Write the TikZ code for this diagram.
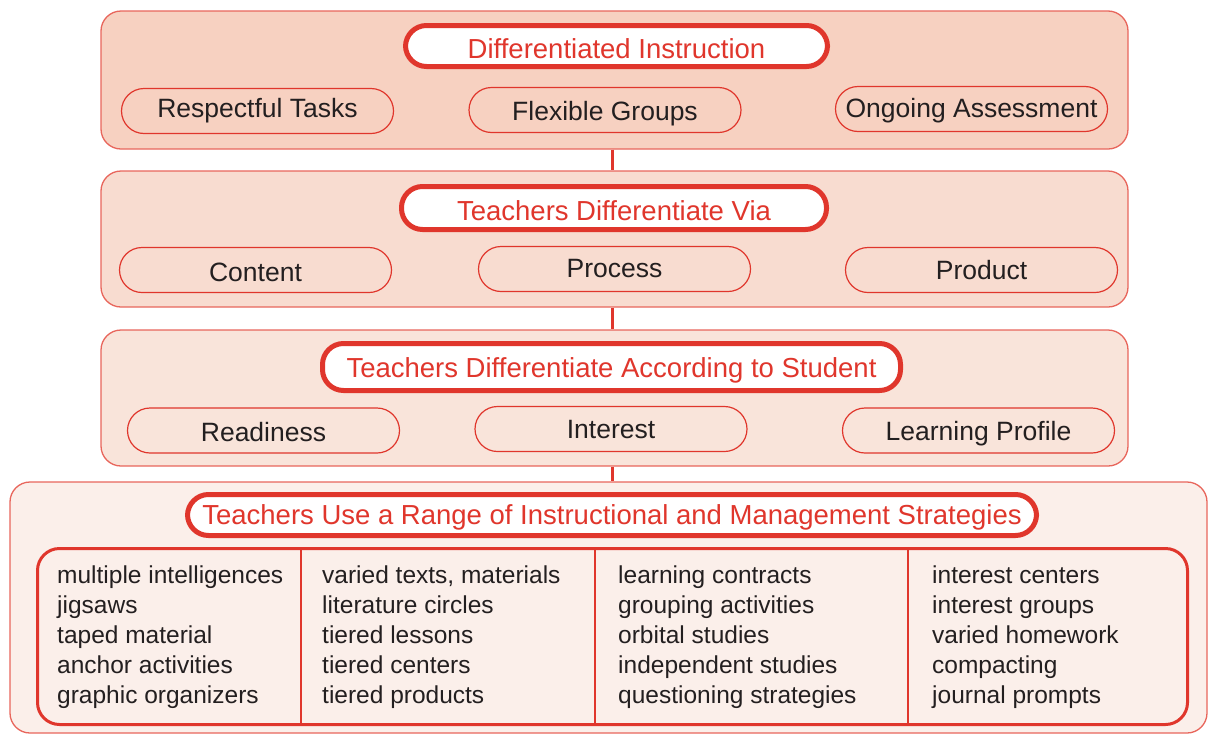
\documentclass[tikz,border=0pt]{standalone}
\usepackage{fontspec}
\setmainfont{Liberation Sans}
\definecolor{dired}{HTML}{E0362C}
\definecolor{edgered}{HTML}{E8665C}
\definecolor{fillA}{HTML}{F7D1C1}
\definecolor{fillB}{HTML}{F8DCD0}
\definecolor{fillC}{HTML}{F9E4DA}
\definecolor{fillD}{HTML}{FBEFEA}
\definecolor{ink}{HTML}{231F20}
\newcommand{\lowertext}[2]{\raisebox{-#1pt}[\height][\depth]{#2}}
\begin{document}
\begin{tikzpicture}[x=1pt,y=-1pt,
  panel/.style={draw=edgered, line width=1.3pt, rounded corners=20pt, inner sep=0pt},
  titlebox/.style={draw=dired, fill=white, line width=5pt, rounded corners=21pt, inner sep=0pt,
    text=dired, font=\fontsize{27.5}{33}\selectfont},
  pill/.style={draw=dired, line width=1.2pt, rounded corners=22.5pt, inner sep=0pt,
    minimum width=272pt, minimum height=45pt, text=ink, font=\fontsize{26.5}{32}\selectfont},
  listtext/.style={anchor=north west, inner sep=0pt, align=left, text=ink,
    font=\fontsize{24.5}{30}\selectfont},
  link/.style={draw=dired, line width=3pt},
  divider/.style={draw=dired, line width=1.3pt}]
\useasboundingbox (0,0) rectangle (1209,734);

% panels
\node[panel, fill=fillA, minimum width=1027pt, minimum height=138pt] (p1) at (614.5,80) {};
\node[panel, fill=fillB, minimum width=1027pt, minimum height=136pt] (p2) at (614.5,239) {};
\node[panel, fill=fillC, minimum width=1027pt, minimum height=136pt] (p3) at (614.5,398) {};
\node[panel, fill=fillD, minimum width=1197pt, minimum height=251pt] (p4) at (608.5,607.5) {};

% connectors
\coordinate (cx) at (612,0);
\draw[link] (p1.south -| cx) -- (p2.north -| cx);
\draw[link] (p2.south -| cx) -- (p3.north -| cx);
\draw[link] (p3.south -| cx) -- (p4.north -| cx);

% panel 1
\node[titlebox, minimum width=422pt, minimum height=41pt] (t1) at (616.5,46) {\lowertext{2.5}{Differentiated Instruction}};
\node[pill, fill=fillA] (a1) at (257.5,111) {\lowertext{0}{Respectful Tasks}};
\node[pill, fill=fillA] (a2) at (605,110) {\lowertext{4}{Flexible Groups}};
\node[pill, fill=fillA] (a3) at (971.5,109) {\lowertext{2}{Ongoing Assessment}};

% panel 2
\node[titlebox, minimum width=425pt, minimum height=43pt] (t2) at (614,208) {\lowertext{3}{Teachers Differentiate Via}};
\node[pill, fill=fillB] (b1) at (255.5,270) {\lowertext{2}{Content}};
\node[pill, fill=fillB] (b2) at (614.5,269) {\lowertext{0}{Process}};
\node[pill, fill=fillB] (b3) at (981.5,270) {\lowertext{0}{Product}};

% panel 3
\node[titlebox, minimum width=578pt, minimum height=47pt] (t3) at (611.5,367) {\lowertext{3}{Teachers Differentiate According to Student}};
\node[pill, fill=fillC] (c1) at (263.5,430.5) {\lowertext{2}{Readiness}};
\node[pill, fill=fillC] (c2) at (611,429) {\lowertext{1}{Interest}};
\node[pill, fill=fillC] (c3) at (978.5,430.5) {\lowertext{3}{Learning Profile}};

% panel 4
\node[titlebox, minimum width=849pt, minimum height=41pt] (t4) at (612,515) {\lowertext{2}{Teachers Use a Range of Instructional and Management Strategies}};
\node[draw=dired, line width=3pt, rounded corners=22pt, minimum width=1150pt, minimum height=176pt, inner sep=0pt] (box) at (612.5,636.5) {};
\coordinate (d1) at (301,0);
\coordinate (d2) at (595,0);
\coordinate (d3) at (908,0);
\draw[divider] (box.north -| d1) -- (box.south -| d1);
\draw[divider] (box.north -| d2) -- (box.south -| d2);
\draw[divider] (box.north -| d3) -- (box.south -| d3);

\node[listtext] (l1) at (57,566) {multiple intelligences\\jigsaws\\taped material\\anchor activities\\graphic organizers};
\node[listtext] (l2) at (322,566) {varied texts, materials\\literature circles\\tiered lessons\\tiered centers\\tiered products};
\node[listtext] (l3) at (618,566) {learning contracts\\grouping activities\\orbital studies\\independent studies\\questioning strategies};
\node[listtext] (l4) at (932,566) {interest centers\\interest groups\\varied homework\\compacting\\journal prompts};
\end{tikzpicture}
\end{document}
